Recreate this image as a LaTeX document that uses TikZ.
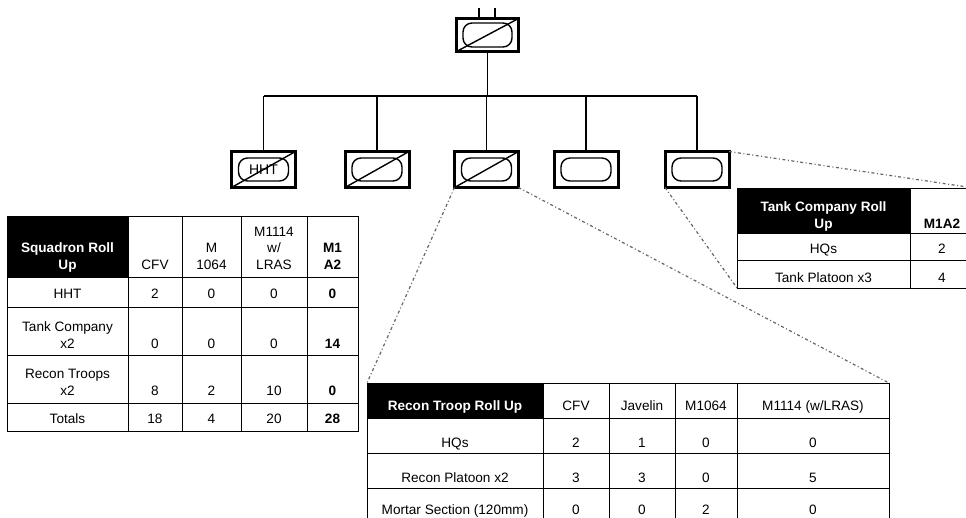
\documentclass[tikz,border=0pt]{standalone}
\usepackage{fontspec}
\setmainfont{Liberation Sans}
\usetikzlibrary{calc}
\newcommand{\mls}[1]{\begin{tabular}[b]{@{}c@{}}#1\end{tabular}}
\newcommand{\LRow}[7]{%
 \node[txt] (L#1a) at (67.5,#2) {#3};
 \node[txt] (L#1b) at (155,#2) {#4};
 \node[txt] (L#1c) at (211.5,#2) {#5};
 \node[txt] (L#1d) at (274,#2) {#6};
 \node[btxt] (L#1e) at (332.5,#2) {#7};}
\newcommand{\BRow}[7]{%
 \node[txt] (B#1a) at (455,#2) {#3};
 \node[txt] (B#1b) at (576,#2) {#4};
 \node[txt] (B#1c) at (642,#2) {#5};
 \node[txt] (B#1d) at (706,#2) {#6};
 \node[txt] (B#1e) at (813,#2) {#7};}
\begin{document}
\begin{tikzpicture}[x=1pt,y=-1pt,
  every node/.style={inner sep=0pt, outer sep=0pt},
  txt/.style={anchor=base, font=\fontsize{13.6}{16.5}\selectfont},
  btxt/.style={anchor=base, font=\fontsize{13.6}{16.5}\selectfont\bfseries},
  wtxt/.style={btxt, text=white},
  unitbox/.style={draw, line width=3pt, minimum width=64pt, minimum height=36pt},
  track/.style={draw, line width=1.4pt, rounded corners=9pt, minimum width=50pt, minimum height=23pt},
  conn/.style={line width=1.4pt},
  leader/.style={draw=black!60, line width=1.2pt, dash pattern=on 3pt off 2.5pt on 1pt off 2.5pt},
  grid/.style={line width=0.9pt},
  frame/.style={draw, line width=0.9pt, anchor=north west}]
\useasboundingbox (0,0) rectangle (966,517);
\fill[white] (0,0) rectangle (966,517);

% ---------- unit symbols ----------
\node[unitbox, minimum width=62pt, minimum height=33pt] (top) at (487.5,35) {};
\node[track, minimum width=49pt, minimum height=24pt] (topT) at (top) {};
\draw[conn] (top.south west) -- (top.north east);

\node[unitbox] (u1) at (263.5,169.5) {};
\node[unitbox] (u2) at (377,169.5) {};
\node[unitbox] (u3) at (486.5,169.5) {};
\node[unitbox] (u4) at (586,169.5) {};
\node[unitbox] (u5) at (697,169.5) {};
\foreach \u in {u1,u2,u3,u4,u5} \node[track] (\u T) at (\u) {};
\node[font=\fontsize{14}{16}\selectfont] (u1L) at (u1) {HHT};
\foreach \u in {u1,u2,u3} \draw[conn] (\u.south west) -- (\u.north east);

% ---------- connectors ----------
\coordinate (tl1) at (479,8);
\coordinate (tl2) at (495,8);
\draw[conn] (tl1) -- (tl1 |- top.north);
\draw[conn] (tl2) -- (tl2 |- top.north);
\coordinate (busL) at (263.5,96);
\coordinate (busR) at (697,96);
\draw[conn] (busL) -- (busR);
\draw[conn] (top.south) -- (top.south |- busL);
\foreach \u in {u1,u2,u3,u4,u5} \draw[conn] (\u.north) -- (\u.north |- busL);

% ---------- left table ----------
\fill[black] (7,216) rectangle (128,277);
\node[frame, minimum width=351pt, minimum height=215pt] (LT) at (7,216) {};
\foreach \x in {128,182,241,307} \draw[grid] (\x,216) -- (\x,431);
\foreach \y in {277,307,355,403} \draw[grid] (7,\y) -- (358,\y);
\node[wtxt] (L00) at (67.5,269) {\mls{Squadron Roll\\Up}};
\node[txt] (L01) at (155,269) {CFV};
\node[txt] (L02) at (211.5,269) {\mls{M\\1064}};
\node[txt] (L03) at (274,269) {\mls{M1114\\w/\\LRAS}};
\node[btxt] (L04) at (332.5,269) {\mls{M1\\A2}};
\LRow{1}{298}{HHT}{2}{0}{0}{0}
\LRow{2}{348}{\mls{Tank Company\\x2}}{0}{0}{0}{14}
\LRow{3}{395}{\mls{Recon Troops\\x2}}{8}{2}{10}{0}
\LRow{4}{423}{Totals}{18}{4}{20}{28}

% ---------- right table ----------
\fill[black] (737,188) rectangle (910,233);
\node[frame, minimum width=237pt, minimum height=100pt] (RT) at (737,188) {};
\draw[grid] (910,188) -- (910,288);
\foreach \y in {233,260} \draw[grid] (737,\y) -- (974,\y);
\node[wtxt] (R00) at (823.5,228) {\mls{Tank Company Roll\\Up}};
\node[btxt] (R01) at (942,228) {M1A2};
\node[txt] (R10) at (823.5,253) {HQs};
\node[txt] (R11) at (942,253) {2};
\node[txt] (R20) at (823.5,282) {Tank Platoon x3};
\node[txt] (R21) at (942,282) {4};

% ---------- bottom table ----------
\fill[black] (367,383) rectangle (543,418);
\node[frame, minimum width=522pt, minimum height=150pt] (BT) at (367,383) {};
\foreach \x in {543,609,675,737} \draw[grid] (\x,383) -- (\x,533);
\foreach \y in {418,453,488} \draw[grid] (367,\y) -- (889,\y);
\node[wtxt] (B00) at (455,410) {Recon Troop Roll Up};
\BRow{0}{410}{}{CFV}{Javelin}{M1064}{M1114 (w/LRAS)}
\BRow{1}{447}{HQs}{2}{1}{0}{0}
\BRow{2}{482}{Recon Platoon x2}{3}{3}{0}{5}
\BRow{3}{514}{Mortar Section (120mm)}{0}{0}{2}{0}

% ---------- leader lines ----------
\draw[leader] (u3.south west) -- (BT.north west);
\draw[leader] (u3.south east) -- (BT.north east);
\draw[leader] (u5.south west) -- (RT.south west);
\draw[leader] (u5.north east) -- (RT.north east);
\end{tikzpicture}
\end{document}
